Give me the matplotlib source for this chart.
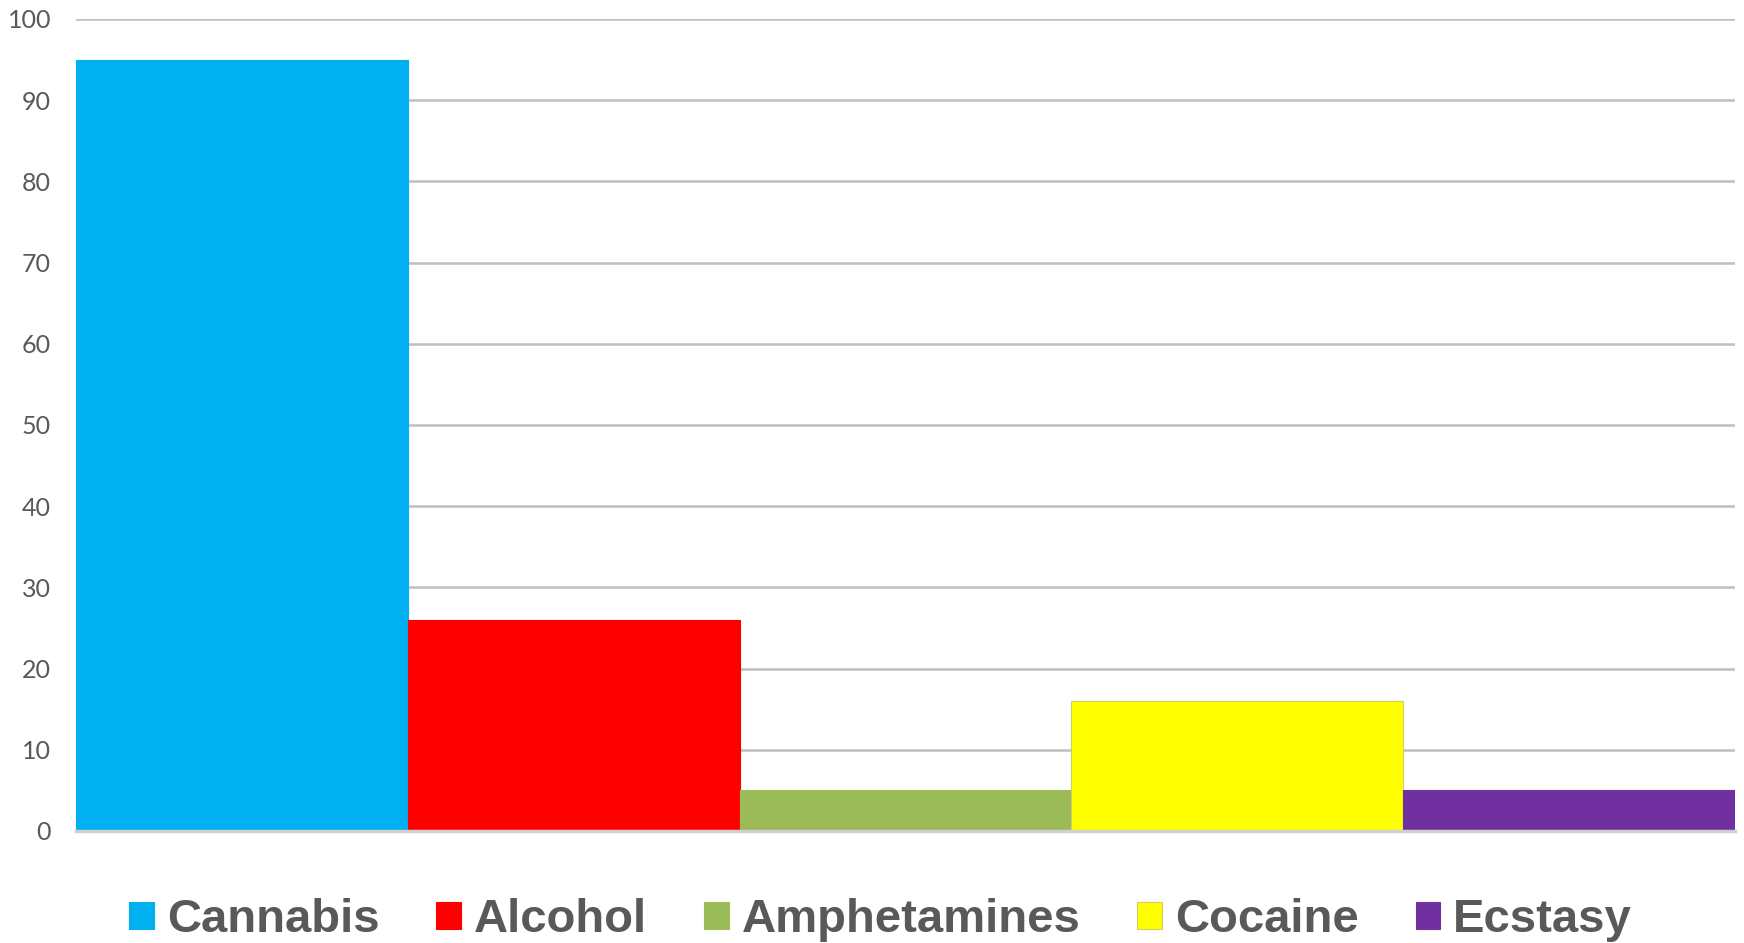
import matplotlib.pyplot as plt
from matplotlib.patches import Patch

drugs = ['Cannabis', 'Alcohol', 'Amphetamines', 'Cocaine', 'Ecstasy']
values = [95, 26, 5, 16, 5]
colors = ['#00B0F0', '#FF0000', '#9BBB59', '#FFFF00', '#7030A0']
yticks = [0, 10, 20, 30, 40, 50, 60, 70, 80, 90, 100]

fig = plt.figure(figsize=(17.44, 9.43), dpi=100)
ax = fig.add_axes([0.0436, 0.1188, 0.9512, 0.8611])

x = range(len(drugs))
edges = ['#D0D060' if c == '#FFFF00' else c for c in colors]
ax.bar(x, values, width=1.0, color=colors, edgecolor=edges, linewidth=0.8, zorder=3)

ax.set_xlim(-0.5, len(drugs) - 0.5)
ax.set_ylim(0, 100)
ax.set_yticks(yticks)
ax.set_xticks([])
ax.grid(axis='y', color='#BFBFBF', linewidth=1.8, zorder=0)
for s in ['top', 'right', 'left']:
    ax.spines[s].set_visible(False)
ax.spines['bottom'].set_color('#D0D0D0')
ax.spines['bottom'].set_linewidth(2.5)
ax.spines['bottom'].set_zorder(4)
ax.tick_params(axis='y', length=0, pad=18, labelsize=18, labelcolor='#595959')
for lbl in ax.get_yticklabels():
    lbl.set_family(['Lato', 'DejaVu Sans'])

handles = [Patch(facecolor=c, edgecolor=e, linewidth=0.8) for c, e in zip(colors, edges)]
fig.legend(handles, drugs, loc='center', bbox_to_anchor=(0.505, 0.024), ncol=5,
           frameon=False, handlelength=0.52, handleheight=0.52, handletextpad=0.28,
           columnspacing=1.2,
           prop={'family': ['Liberation Sans', 'DejaVu Sans'], 'weight': 'bold', 'size': 34},
           labelcolor='#595959')

fig.savefig('out.png', dpi=100)
